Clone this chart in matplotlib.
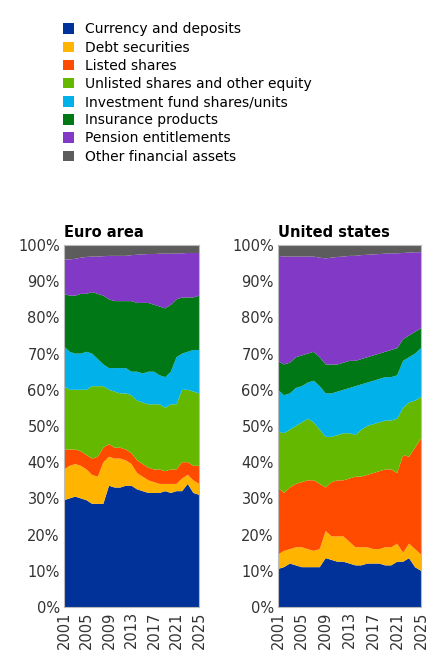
import numpy as np
import matplotlib.pyplot as plt
from matplotlib.patches import Patch

years = np.arange(2001, 2026)
categories = ["Currency and deposits", "Debt securities", "Listed shares",
              "Unlisted shares and other equity", "Investment fund shares/units",
              "Insurance products", "Pension entitlements", "Other financial assets"]
colors = ["#003299", "#FFB400", "#FF4B00", "#65B800", "#00B1EA", "#007816", "#8139C6", "#5C5C5C"]

# cumulative tops (percent) per category, yearly
ea_tops = [
    [29.5, 30, 30.5, 30, 29.5, 28.5, 28.5, 28.5, 33.5, 33, 33, 33.5, 33.5, 32.5, 32, 31.5, 31.5, 31.5, 32, 31.5, 32, 32, 34, 31.5, 31],
    [38, 39, 39.5, 39, 38, 36.5, 36, 40, 41.5, 41, 41, 40.5, 39.5, 37, 36, 35, 34.5, 34, 34, 34, 34, 35.5, 36.5, 35, 34],
    [43.5, 43.5, 43.5, 43, 42, 41, 41.5, 44, 45, 44, 44, 43.5, 42.5, 40.5, 39.5, 38.5, 38, 38, 37.5, 38, 38, 40, 40, 39, 39],
    [61, 60, 60, 60, 60, 61, 61, 61, 60, 59.5, 59, 59, 58.5, 57, 56.5, 56, 56, 56, 55, 56, 56, 60, 60, 59.5, 59],
    [72, 70.5, 70, 70, 70.5, 70, 68.5, 67, 66, 66, 66, 66, 65, 65, 64.5, 65, 65, 64, 63.5, 65, 69, 70, 70.5, 71, 71],
    [86.5, 86, 86, 86.5, 86.5, 87, 86.5, 86, 85, 84.5, 84.5, 84.5, 84.5, 84, 84, 84, 83.5, 83, 82.5, 83.5, 85, 85.5, 85.5, 85.5, 86],
    [96, 96, 96.2, 96.5, 96.7, 96.8, 96.8, 96.9, 97, 97, 97, 97, 97.2, 97.3, 97.4, 97.5, 97.5, 97.6, 97.6, 97.6, 97.7, 97.7, 97.8, 97.8, 97.8],
    [100] * 25,
]
us_tops = [
    [10.5, 11, 12, 11.5, 11, 11, 11, 11, 13.5, 13, 12.5, 12.5, 12, 11.5, 11.5, 12, 12, 12, 11.5, 11.5, 12.5, 12.5, 13.5, 11, 10],
    [14.5, 15.5, 16, 16.5, 16.5, 16, 15.5, 16, 21, 19.5, 19.5, 19.5, 18, 16.5, 16.5, 16.5, 16, 16, 16.5, 16.5, 17.5, 15, 17.5, 16, 14.5],
    [33, 31.5, 33, 34, 34.5, 35, 35, 34, 33, 34.5, 35, 35, 35.5, 36, 36, 36.5, 37, 37.5, 38, 38, 37, 42, 41.5, 44, 46.5],
    [48.5, 48, 49, 50, 51, 52, 51, 49, 47, 47, 47.5, 48, 48, 47.5, 49, 50, 50.5, 51, 51.5, 51.5, 52, 55, 56.5, 57, 58],
    [60, 58.5, 59, 60.5, 61, 62, 62.5, 61, 59, 59, 59.5, 60, 60.5, 61, 61.5, 62, 62.5, 63, 63.5, 63.5, 64, 68, 69, 70, 71.5],
    [68, 67, 67.5, 69, 69.5, 70, 70.5, 69, 67, 67, 67, 67.5, 68, 68, 68.5, 69, 69.5, 70, 70.5, 71, 71.5, 74, 75, 76, 77],
    [97, 96.8, 96.8, 96.8, 96.8, 96.8, 96.8, 96.5, 96.3, 96.5, 96.7, 96.8, 97, 97, 97.2, 97.3, 97.4, 97.5, 97.6, 97.7, 97.7, 97.8, 97.9, 98, 98],
    [100] * 25,
]


def shares(tops):
    t = np.array(tops, dtype=float)
    return np.diff(np.vstack([np.zeros(t.shape[1]), t]), axis=0)


fig = plt.figure(figsize=(4.47, 6.57), dpi=100)
panels = [("Euro area", ea_tops, [64 / 447, 50 / 657, 135 / 447, 362 / 657]),
          ("United states", us_tops, [278 / 447, 50 / 657, 143 / 447, 362 / 657])]
for title, tops, rect in panels:
    ax = fig.add_axes(rect)
    ax.stackplot(years, shares(tops) / 100, colors=colors, linewidth=0)
    ax.set_xlim(2001, 2025)
    ax.set_ylim(0, 1)
    ax.set_yticks(np.arange(0, 1.01, 0.1))
    ax.set_yticklabels([f"{int(v)}%" for v in np.arange(0, 101, 10)], fontsize=10.5, color="#333333")
    ax.set_xticks(np.arange(2001, 2026, 4))
    ax.set_xticklabels([str(y) for y in range(2001, 2026, 4)], rotation=90, fontsize=10.5, color="#333333")
    ax.tick_params(length=0, pad=3)
    for s in ax.spines.values():
        s.set_color("#BBBBBB")
    ax.set_title(title, loc="left", fontsize=10.5, fontweight="bold", pad=6)

handles = [Patch(facecolor=c, edgecolor="none") for c in colors]
fig.legend(handles, categories, loc="upper left", bbox_to_anchor=(50 / 447, 1 - 10 / 657),
           frameon=False, fontsize=10, handlelength=0.8, handleheight=0.8,
           labelspacing=0.3, handletextpad=0.8)
fig.savefig("out.png", dpi=100)
